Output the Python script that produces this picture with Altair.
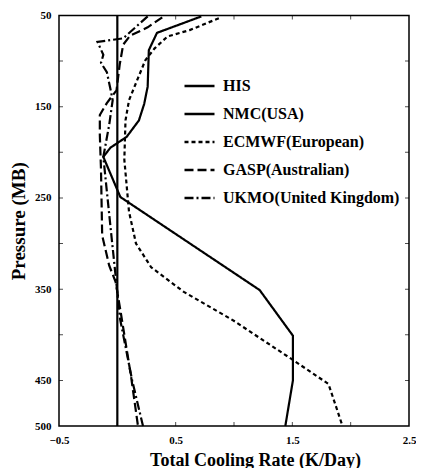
import altair as alt
import pandas as pd

models = ["HIS", "NMC(USA)", "ECMWF(European)", "GASP(Australian)", "UKMO(United Kingdom)"]
dashes = [[1, 0], [1, 0], [4, 3], [9, 4], [9, 3, 2, 3]]

his_p = [50, 500]
his_x = [0.0, 0.0]

nmc_p = [51, 69, 88, 128, 147, 165, 183, 195, 205, 249, 351, 401, 450, 500]
nmc_x = [0.72, 0.34, 0.27, 0.26, 0.23, 0.185, 0.08, -0.06, -0.12, 0.026, 1.22, 1.505, 1.505, 1.44]

ecm_p = [53, 66, 73, 86, 99, 124, 143, 165, 208, 265, 300, 326, 353, 384, 428, 454, 500]
ecm_x = [0.87, 0.62, 0.43, 0.32, 0.24, 0.16, 0.10, 0.07, 0.06, 0.10, 0.16, 0.29, 0.57, 0.99, 1.51, 1.81, 1.93]

gasp_p = [52, 63, 72, 82, 104, 132, 146, 159, 181, 219, 291, 324, 342, 373, 446, 500]
gasp_x = [0.385, 0.26, 0.11, 0.05, 0.02, -0.007, -0.09, -0.15, -0.15, -0.14, -0.13, -0.07, -0.015, 0.026, 0.118, 0.177]

ukmo_p = [51, 75, 79, 93, 102, 112, 130, 143, 170, 205, 280, 383, 450, 500]
ukmo_x = [0.26, 0.05, -0.17, -0.12, -0.14, -0.09, -0.06, -0.04, -0.07, -0.12, -0.06, 0.024, 0.127, 0.22]

y_label_vals = [50, 150, 250, 350, 450, 500]
x_label_vals = [-0.5, 0.5, 1.5, 2.5]
y_tick_vals = [100, 150, 200, 250, 300, 350, 400, 450]
x_tick_vals = [0.0, 0.5, 1.0, 1.5, 2.0]

rows = []
for name, ps, xs in zip(models, [his_p, nmc_p, ecm_p, gasp_p, ukmo_p],
                        [his_x, nmc_x, ecm_x, gasp_x, ukmo_x]):
    for i, (p, x) in enumerate(zip(ps, xs)):
        rows.append({"model": name, "p": p, "x": x, "i": i})
df = pd.DataFrame(rows)

FONT = "Liberation Serif"
xscale = alt.Scale(domain=[-0.5, 2.5], nice=False, zero=False)
yscale = alt.Scale(domain=[50, 500], reverse=True, nice=False, zero=False)

lines = alt.Chart(df).mark_line(color="black", strokeWidth=2.2).encode(
    x=alt.X("x:Q", scale=xscale,
            axis=alt.Axis(values=x_label_vals, format=".1f", title="Total Cooling Rate (K/Day)",
                          ticks=False, domain=False, grid=False, labelFlush=False,
                          labelPadding=8, titlePadding=6, titleX=196)),
    y=alt.Y("p:Q", scale=yscale,
            axis=alt.Axis(values=y_label_vals, format="d", title="Pressure (MB)",
                          ticks=False, domain=False, grid=False, labelFlush=False,
                          labelPadding=8, titlePadding=6)),
    strokeDash=alt.StrokeDash("model:N", scale=alt.Scale(domain=models, range=dashes),
                              legend=alt.Legend(title=None, orient="none", legendX=124, legendY=54,
                                                symbolType="stroke", symbolSize=900,
                                                symbolStrokeWidth=2.5, symbolStrokeColor="black",
                                                labelFont=FONT, labelFontWeight="bold", labelFontSize=16,
                                                labelColor="black", labelOffset=7, rowPadding=3,
                                                padding=0, labelLimit=300)),
    order=alt.Order("i:Q"),
)

ydf = pd.DataFrame({"p": y_tick_vals})
xdf = pd.DataFrame({"x": x_tick_vals})
tick_kw = dict(clip=True, size=8, thickness=1, color="black")
left_t = alt.Chart(ydf).mark_tick(orient="horizontal", **tick_kw).encode(
    y=alt.Y("p:Q", scale=yscale), x=alt.datum(-0.5))
right_t = alt.Chart(ydf).mark_tick(orient="horizontal", **tick_kw).encode(
    y=alt.Y("p:Q", scale=yscale), x=alt.datum(2.5))
bot_t = alt.Chart(xdf).mark_tick(orient="vertical", **tick_kw).encode(
    x=alt.X("x:Q", scale=xscale), y=alt.datum(500))
top_t = alt.Chart(xdf).mark_tick(orient="vertical", **tick_kw).encode(
    x=alt.X("x:Q", scale=xscale), y=alt.datum(50))

chart = alt.layer(lines, left_t, right_t, bot_t, top_t).properties(
    width=350, height=410.5,
    autosize=alt.AutoSizeParams(type="none"),
    padding={"left": 51, "top": 7.5, "right": 7, "bottom": 42},
).configure_view(stroke="black", strokeWidth=1.5).configure_axis(
    labelFont=FONT, labelFontWeight="bold", labelFontSize=11, labelColor="black",
    titleFont=FONT, titleFontWeight="bold", titleColor="black",
).configure_axisX(titleFontSize=18).configure_axisY(titleFontSize=19)

chart.save("out.html", embed_options={"renderer": "svg", "actions": False})
